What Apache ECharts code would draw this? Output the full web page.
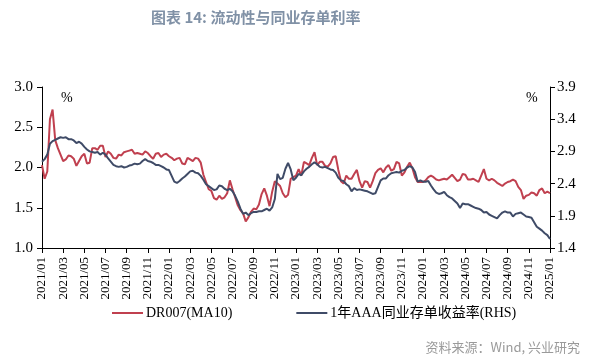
<!DOCTYPE html>
<html><head><meta charset="utf-8">
<script src="https://cdn.jsdelivr.net/npm/echarts@6/dist/echarts.min.js"></script>
<style>html,body{margin:0;padding:0;background:#fff}#c{width:600px;height:358px}</style>
</head><body><div id="c"></div>
<script>
// weekly-ish observations: 4 points per month from 2021/01 to 2025/01
const pointsPerMonth = 4;
const tickLabels = ['2021/01','2021/03','2021/05','2021/07','2021/09','2021/11',
  '2022/01','2022/03','2022/05','2022/07','2022/09','2022/11',
  '2023/01','2023/03','2023/05','2023/07','2023/09','2023/11',
  '2024/01','2024/03','2024/05','2024/07','2024/09','2024/11','2025/01'];
const leftTicks = [1.0, 1.5, 2.0, 2.5, 3.0];
const rightTicks = [1.4, 1.9, 2.4, 2.9, 3.4, 3.9];
const seriesNames = ['DR007(MA10)', '1年AAA同业存单收益率(RHS)'];
const dr007 = [
2.03,1.86,1.95,2.60, 2.72,2.34,2.24,2.16, 2.08,2.10,2.15,2.14, 2.11,2.02,2.08,2.14,
2.17,2.05,2.06,2.24, 2.24,2.22,2.27,2.27, 2.13,2.20,2.17,2.12, 2.11,2.16,2.15,2.19,
2.20,2.21,2.22,2.17, 2.18,2.17,2.16,2.20, 2.18,2.14,2.11,2.17, 2.18,2.13,2.16,2.17,
2.14,2.12,2.09,2.11, 2.12,2.05,2.04,2.12, 2.10,2.08,2.12,2.11, 2.06,1.91,1.82,1.73,
1.71,1.62,1.60,1.65, 1.61,1.63,1.68,1.84, 1.73,1.63,1.53,1.47, 1.43,1.33,1.38,1.45,
1.49,1.48,1.54,1.67, 1.74,1.65,1.52,1.70, 1.83,1.80,1.77,1.68, 1.63,1.66,1.86,1.88,
1.90,1.98,1.90,2.07, 2.05,2.03,2.12,2.19, 2.03,2.07,2.07,2.02, 2.01,2.05,2.13,2.14,
1.97,1.83,1.80,1.90, 1.86,1.86,1.92,1.97, 1.83,1.75,1.83,1.82, 1.75,1.83,1.93,1.97,
1.99,1.94,2.00,2.03, 1.96,1.98,2.07,2.05, 1.90,1.94,2.01,2.06, 1.99,1.88,1.82,1.82,
1.82,1.84,1.88,1.90, 1.88,1.85,1.84,1.85, 1.86,1.85,1.88,1.91, 1.87,1.83,1.85,1.92,
1.91,1.85,1.85,1.86, 1.84,1.82,1.90,1.98, 1.86,1.84,1.86,1.84, 1.81,1.79,1.77,1.80,
1.82,1.83,1.85,1.83, 1.76,1.72,1.61,1.65, 1.66,1.69,1.68,1.65, 1.72,1.74,1.68,1.70,
1.68];
const cd1y = [
2.74,2.78,2.85,3.02, 3.06,3.08,3.10,3.12, 3.11,3.12,3.09,3.09, 3.07,3.03,3.05,3.02,
2.97,2.93,2.90,2.89, 2.88,2.89,2.85,2.88, 2.85,2.79,2.74,2.69, 2.67,2.66,2.67,2.65,
2.66,2.68,2.69,2.71, 2.70,2.71,2.75,2.78, 2.75,2.74,2.72,2.69, 2.69,2.67,2.65,2.62,
2.61,2.52,2.43,2.41, 2.44,2.48,2.51,2.55, 2.59,2.60,2.57,2.56, 2.52,2.46,2.39,2.36,
2.33,2.30,2.31,2.37, 2.36,2.32,2.30,2.32, 2.28,2.21,2.12,2.01, 1.93,1.95,1.91,1.94,
1.96,1.96,1.97,1.97, 1.99,2.01,1.98,2.03, 2.16,2.55,2.47,2.49, 2.63,2.72,2.62,2.45,
2.49,2.55,2.53,2.59, 2.63,2.66,2.70,2.73, 2.70,2.66,2.65,2.66, 2.64,2.62,2.61,2.57,
2.49,2.45,2.44,2.39, 2.36,2.28,2.33,2.30, 2.31,2.30,2.29,2.28, 2.26,2.24,2.25,2.35,
2.45,2.48,2.48,2.53, 2.56,2.57,2.58,2.57, 2.60,2.61,2.65,2.67, 2.65,2.58,2.43,2.45,
2.43,2.43,2.44,2.37, 2.31,2.26,2.24,2.25, 2.27,2.22,2.19,2.17, 2.13,2.09,2.02,2.09,
2.08,2.08,2.06,2.04, 2.02,2.01,1.99,1.95, 1.96,1.92,1.90,1.88, 1.86,1.91,1.95,1.97,
1.95,1.95,1.89,1.93, 1.94,1.95,1.92,1.89, 1.88,1.87,1.80,1.73, 1.70,1.67,1.63,1.60,
1.54];

const tickStep = pointsPerMonth * 2;
const xMax = (tickLabels.length - 1) * tickStep;
const serif = '"Liberation Serif","Times New Roman",serif';
const cjk = '"Noto Sans CJK SC","Noto Sans",sans-serif';
const axisColor = '#000';

const chart = echarts.init(document.getElementById('c'), null, {renderer: 'canvas'});
chart.setOption({
  animation: false,
  backgroundColor: '#fff',
  title: {
    text: '图表 14: 流动性与同业存单利率',
    left: 146, top: 5,
    textStyle: {fontFamily: cjk, fontSize: 15, fontWeight: 'bold', color: '#8091a6'}
  },
  grid: {left: 42, right: 50, top: 87, bottom: 110, containLabel: false},
  legend: {
    left: 107, top: 301,
    itemWidth: 31, itemHeight: 2, itemGap: 64,
    icon: 'rect',
    textStyle: {fontFamily: serif + ',' + cjk, fontSize: 14, color: '#000', padding: [0,0,0,-2]},
    data: seriesNames
  },
  xAxis: {
    type: 'value', min: 0, max: xMax, interval: tickStep,
    axisLine: {show: true, lineStyle: {color: axisColor, width: 1}},
    axisTick: {show: true, length: 5, lineStyle: {color: axisColor}},
    splitLine: {show: false},
    axisLabel: {
      rotate: 90, margin: 9, fontFamily: serif, fontSize: 13, color: '#000',
      formatter: v => tickLabels[Math.round(v / tickStep)] || ''
    }
  },
  yAxis: [{
    type: 'value', min: leftTicks[0], max: leftTicks[leftTicks.length-1], interval: 0.5,
    position: 'left',
    axisLine: {show: true, lineStyle: {color: axisColor}},
    axisTick: {show: true, length: 5, lineStyle: {color: axisColor}},
    splitLine: {show: false},
    axisLabel: {margin: 9, fontFamily: serif, fontSize: 15, color: '#000', formatter: v => v.toFixed(1)}
  }, {
    type: 'value', min: rightTicks[0], max: rightTicks[rightTicks.length-1],
    position: 'right',
    axisLine: {show: true, lineStyle: {color: axisColor}},
    axisTick: {show: true, length: 5, lineStyle: {color: axisColor}, customValues: rightTicks},
    splitLine: {show: false},
    axisLabel: {margin: 7, fontFamily: serif, fontSize: 15, color: '#000', customValues: rightTicks, formatter: v => v.toFixed(1)}
  }],
  graphic: [
    {type: 'text', left: 61, top: 91, style: {text: '%', font: '14px ' + serif, fill: '#000'}},
    {type: 'text', left: 526, top: 91, style: {text: '%', font: '14px ' + serif, fill: '#000'}},
    {type: 'text', right: 20, top: 341, style: {text: '资料来源：Wind, 兴业研究', font: '13px ' + cjk, fill: '#9a9a9a'}}
  ],
  series: [{
    name: seriesNames[0], type: 'line', yAxisIndex: 0, showSymbol: false,
    lineStyle: {color: '#c0404f', width: 2}, itemStyle: {color: '#c0404f'},
    data: dr007.map((v, i) => [i, v])
  }, {
    name: seriesNames[1], type: 'line', yAxisIndex: 1, showSymbol: false,
    lineStyle: {color: '#3f4b67', width: 2}, itemStyle: {color: '#3f4b67'},
    data: cd1y.map((v, i) => [i, v])
  }]
});
</script>
</body></html>
